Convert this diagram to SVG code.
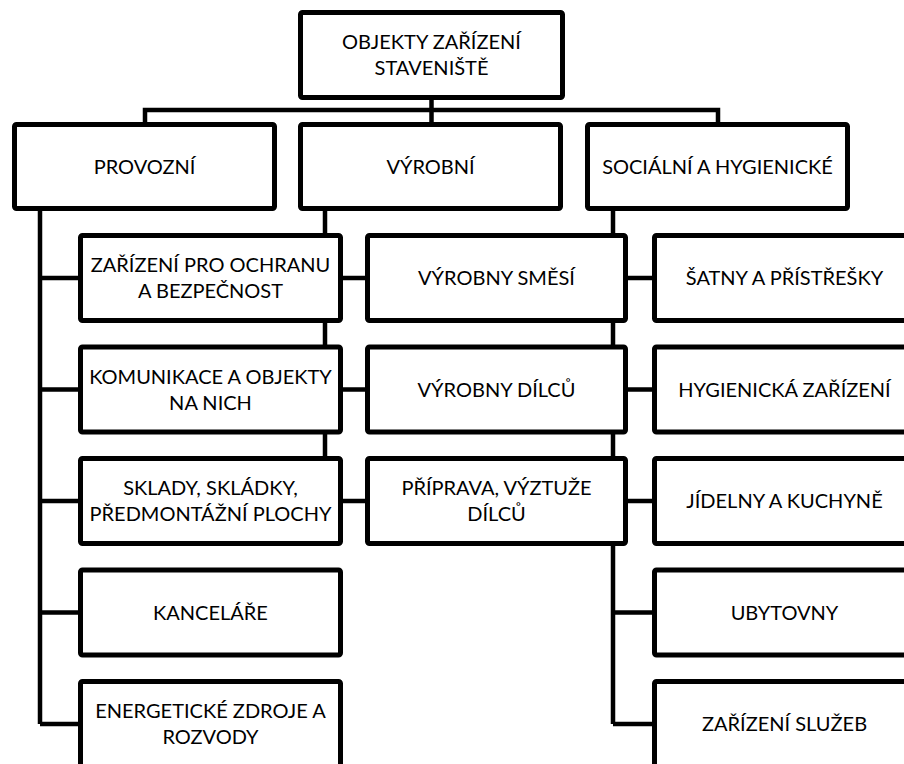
<svg xmlns="http://www.w3.org/2000/svg" width="904" height="764" viewBox="0 0 904 764">
<style>
.box{fill:#fff;stroke:#000;stroke-width:5;stroke-linejoin:round}
.c{fill:none;stroke:#000;stroke-width:4.5}
text{font-family:Lato,"Liberation Sans",sans-serif;font-size:20px;fill:#000;text-anchor:middle}
</style>
<rect width="904" height="764" fill="#fff"/>
<g id="connectors">
<path class="c" d="M431.5 100V122M145 122V110H718V122"/>
<path class="c" d="M40 211V724M40 278H78M40 389.5H78M40 501H78M40 612.5H78M40 724H78"/>
<path class="c" d="M325 211V456"/>
<path class="c" d="M613 211V724M613 612.5H652M613 724H652"/>
<path class="c" d="M343 278H365M343 389.5H365M343 501H365"/>
<path class="c" d="M628 278H652M628 389.5H652M628 501H652"/>
</g>
<g id="n-root"><rect class="box" x="300.5" y="12.5" width="262" height="85" rx="2"/><text x="431.5" y="49">OBJEKTY ZAŘÍZENÍ</text><text x="431.5" y="75">STAVENIŠTĚ</text></g>
<g id="n-provozni"><rect class="box" x="14.5" y="124.5" width="260" height="84" rx="2"/><text x="144.5" y="174">PROVOZNÍ</text></g>
<g id="n-vyrobni"><rect class="box" x="300.5" y="124.5" width="260" height="84" rx="2"/><text x="430.5" y="174">VÝROBNÍ</text></g>
<g id="n-socialni"><rect class="box" x="587.5" y="124.5" width="260" height="84" rx="2"/><text x="717.5" y="174">SOCIÁLNÍ A HYGIENICKÉ</text></g>
<g id="n-ochrana"><rect class="box" x="80.5" y="235.5" width="260" height="85" rx="2"/><text x="210.5" y="272">ZAŘÍZENÍ PRO OCHRANU</text><text x="210.5" y="298">A BEZPEČNOST</text></g>
<g id="n-komunikace"><rect class="box" x="80.5" y="347" width="260" height="85" rx="2"/><text x="210.5" y="383.5">KOMUNIKACE A OBJEKTY</text><text x="210.5" y="409.5">NA NICH</text></g>
<g id="n-sklady"><rect class="box" x="80.5" y="458.5" width="260" height="85" rx="2"/><text x="210.5" y="495">SKLADY, SKLÁDKY,</text><text x="210.5" y="521">PŘEDMONTÁŽNÍ PLOCHY</text></g>
<g id="n-kancelare"><rect class="box" x="80.5" y="570" width="260" height="85" rx="2"/><text x="210.5" y="619.5">KANCELÁŘE</text></g>
<g id="n-energie"><rect class="box" x="80.5" y="681.5" width="260" height="85" rx="2"/><text x="210.5" y="718">ENERGETICKÉ ZDROJE A</text><text x="210.5" y="744">ROZVODY</text></g>
<g id="n-smesi"><rect class="box" x="367.5" y="235.5" width="258" height="85" rx="2"/><text x="496.5" y="285">VÝROBNY SMĚSÍ</text></g>
<g id="n-dilcu"><rect class="box" x="367.5" y="347" width="258" height="85" rx="2"/><text x="496.5" y="396.5">VÝROBNY DÍLCŮ</text></g>
<g id="n-priprava"><rect class="box" x="367.5" y="458.5" width="258" height="85" rx="2"/><text x="496.5" y="495">PŘÍPRAVA, VÝZTUŽE</text><text x="496.5" y="521">DÍLCŮ</text></g>
<g id="n-satny"><rect class="box" x="654.5" y="235.5" width="260" height="85" rx="2"/><text x="784.5" y="285">ŠATNY A PŘÍSTŘEŠKY</text></g>
<g id="n-hygienicka"><rect class="box" x="654.5" y="347" width="260" height="85" rx="2"/><text x="784.5" y="396.5">HYGIENICKÁ ZAŘÍZENÍ</text></g>
<g id="n-jidelny"><rect class="box" x="654.5" y="458.5" width="260" height="85" rx="2"/><text x="784.5" y="508">JÍDELNY A KUCHYNĚ</text></g>
<g id="n-ubytovny"><rect class="box" x="654.5" y="570" width="260" height="85" rx="2"/><text x="784.5" y="619.5">UBYTOVNY</text></g>
<g id="n-sluzby"><rect class="box" x="654.5" y="681.5" width="260" height="85" rx="2"/><text x="784.5" y="731">ZAŘÍZENÍ SLUŽEB</text></g>
</svg>
